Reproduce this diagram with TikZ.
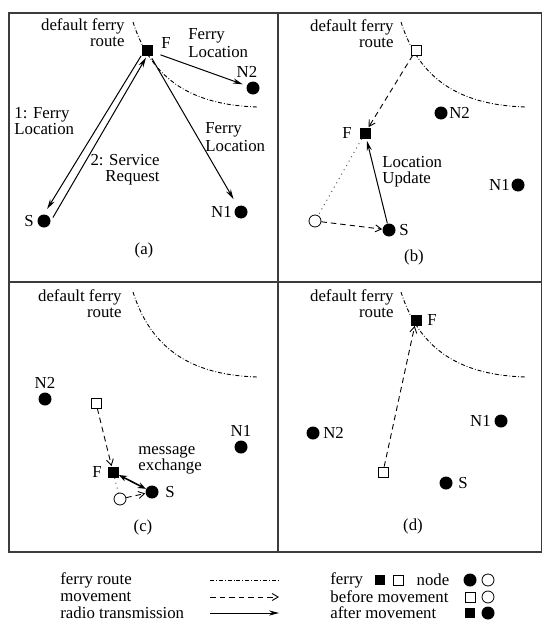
\documentclass[tikz,border=0pt]{standalone}
\usepackage{fontspec}
\setmainfont{Liberation Serif}
\usepackage{tikz}
\usetikzlibrary{arrows.meta,positioning}
\definecolor{frameGray}{RGB}{60,60,60}
\newcommand{\lblfont}{\fontsize{8.4}{8}\selectfont}
\newcommand{\lblfontwide}{\fontsize{8.4}{9}\selectfont}

\begin{document}
\begin{tikzpicture}[x=0.5pt, y=-0.5pt,
  ferry/.style={rectangle, fill=black, minimum size=5.5pt, inner sep=0pt},
  oldferry/.style={rectangle, draw, fill=white, line width=0.4pt, minimum size=5pt, inner sep=0pt},
  sensor/.style={circle, fill=black, minimum size=6.5pt, inner sep=0pt},
  oldsensor/.style={circle, draw, fill=white, line width=0.4pt, minimum size=6pt, inner sep=0pt},
  lbl/.style={font=\lblfont, inner sep=0.5pt},
  ferryroute/.style={line width=0.45pt, dash pattern=on 2pt off 1pt on 0.4pt off 1pt},
  moving/.style={line width=0.45pt, dash pattern=on 2.75pt off 2pt, -{Straight Barb[length=3pt,width=3.5pt]}},
  radio/.style={line width=0.5pt, -{Stealth[length=5pt,width=2.6pt]}},
  exchange/.style={line width=0.8pt, {Stealth[length=4pt,width=3pt]}-{Stealth[length=4pt,width=3pt]}},
  trail/.style={line width=0.5pt, dotted, black!65}]
  \useasboundingbox (0,0) rectangle (541,621);

  % frame
  \draw[frameGray, line width=0.75pt] (9,13) rectangle (541.5,552);
  \draw[frameGray, line width=0.75pt] (278,13) -- (278,552);
  \draw[frameGray, line width=0.75pt] (9,282) -- (541.5,282);

  % (a)
  \node[lbl, anchor=east, align=right] (rta) at (126,33) {default ferry\\route};
  \draw[ferryroute] (133,22) .. controls (152,82) and (195,105) .. (257,107);
  \node[ferry] (fa) at (147,50) {};
  \node[sensor] (sa) at (44,221) {};
  \node[sensor] (n1a) at (241,212) {};
  \node[sensor] (n2a) at (253,88) {};
  \node[lbl, right=3.5pt of fa, yshift=3.5pt] {F};
  \node[lbl, left=1pt of sa] {S};
  \node[lbl, left=0.5pt of n1a] {N1};
  \node[lbl, above=1pt of n2a, xshift=-3pt] {N2};
  \draw[radio, shorten >=3pt] (fa.south west) -- (sa.north);
  \draw[radio, shorten <=2pt, shorten >=1pt] (sa.east) -- (fa.south);
  \draw[radio, shorten <=4pt, shorten >=2pt] (fa) -- (n2a);
  \draw[radio, shorten <=1.5pt, shorten >=4pt] (fa) -- (n1a);
  \node[lbl, font=\lblfontwide, anchor=west, align=left] at (187,43) {Ferry\\Location};
  \node[lbl, font=\lblfontwide, anchor=west, align=left] at (204,137) {Ferry\\Location};
  \node[lbl, anchor=west, align=left] at (13,121) {1: Ferry\\Location};
  \node[lbl, anchor=east, align=right] at (161,170) {2: Service\\Request};
  \node[lbl] (capa) at (144,250) {(a)};

  % (b)
  \node[lbl, anchor=east, align=right] (rtb) at (395,34) {default ferry\\route};
  \draw[ferryroute] (401,22) .. controls (420,82) and (463,105) .. (525,107);
  \node[oldferry] (fb0) at (416,50) {};
  \node[ferry] (fb) at (365,133) {};
  \node[sensor] (n2b) at (441,113) {};
  \node[sensor] (n1b) at (518,185) {};
  \node[oldsensor] (sb0) at (315,221) {};
  \node[sensor] (sb) at (389,230) {};
  \node[lbl, left=3pt of fb] {F};
  \node[lbl, right=0pt of n2b] {N2};
  \node[lbl, left=0pt of n1b] {N1};
  \node[lbl, right=1pt of sb] {S};
  \draw[moving] (fb0) -- (fb);
  \draw[trail] (fb) -- (sb0);
  \draw[moving] (sb0) -- (sb);
  \draw[radio, shorten >=1pt] (sb) -- (fb);
  \node[lbl, anchor=west, align=left] at (381,172) {Location\\Update};
  \node[lbl] (capb) at (414,257) {(b)};

  % (c)
  \node[lbl, anchor=east, align=right] (rtc) at (123,304) {default ferry\\route};
  \draw[ferryroute] (133,292) .. controls (152,352) and (195,375) .. (257,377);
  \node[sensor] (n2c) at (45,399) {};
  \node[oldferry] (fc0) at (96,403) {};
  \node[ferry] (fc) at (113,472) {};
  \node[sensor] (n1c) at (241,447) {};
  \node[sensor] (sc) at (152,492) {};
  \node[oldsensor] (sc0) at (120,499) {};
  \node[lbl, above=1pt of n2c] {N2};
  \node[lbl, above=1pt of n1c] {N1};
  \node[lbl, left=2pt of fc] {F};
  \node[lbl, right=2.5pt of sc] {S};
  \draw[moving] (fc0) -- (fc);
  \draw[trail] (fc) -- (sc0);
  \draw[moving] (sc0) -- (sc);
  \draw[exchange] (fc) -- (sc);
  \node[lbl, anchor=west, align=left] at (137,460) {message\\exchange};
  \node[lbl] (capc) at (143,527) {(c)};

  % (d)
  \node[lbl, anchor=east, align=right] (rtd) at (395,304) {default ferry\\route};
  \draw[ferryroute] (401,292) .. controls (420,352) and (463,375) .. (525,377);
  \node[ferry] (fd) at (416,320) {};
  \node[oldferry] (fd0) at (383,472) {};
  \node[sensor] (n2d) at (313,433) {};
  \node[sensor] (n1d) at (501,421) {};
  \node[sensor] (sd) at (446,483) {};
  \node[lbl, right=2pt of fd] {F};
  \node[lbl, right=1pt of n2d] {N2};
  \node[lbl, left=1pt of n1d] {N1};
  \node[lbl, right=2pt of sd] {S};
  \draw[moving] (fd0) -- (fd);
  \node[lbl] (capd) at (413,526) {(d)};

  % legend
  \node[lbl, anchor=west] (lgroute) at (59,580) {ferry route};
  \node[lbl, anchor=west] (lgmove) at (59,597) {movement};
  \node[lbl, anchor=west] (lgradio) at (59,613) {radio transmission};
  \coordinate (lr0) at (210,580); \coordinate (lr1) at (280,580);
  \coordinate (lm0) at (210,597); \coordinate (lm1) at (279,597);
  \coordinate (lt0) at (210,613); \coordinate (lt1) at (279,613);
  \draw[ferryroute] (lr0) -- (lr1);
  \draw[moving] (lm0) -- (lm1);
  \draw[radio] (lt0) -- (lt1);
  \node[lbl, anchor=west] (lgferry) at (329,580) {ferry};
  \node[ferry, minimum size=5pt] (kf1) at (380,580) {};
  \node[oldferry] (kf0) at (398,580) {};
  \node[lbl] (lgnode) at (433,580) {node};
  \node[sensor] (ks1) at (470,580) {};
  \node[oldsensor] (ks0) at (488,580) {};
  \node[lbl, anchor=west] (lgbefore) at (329,597) {before movement};
  \node[oldferry] (kbf) at (470,597) {};
  \node[oldsensor] (kbs) at (488,597) {};
  \node[lbl, anchor=west] (lgafter) at (329,613) {after movement};
  \node[ferry, minimum size=5pt] (kaf) at (470,613) {};
  \node[sensor] (kas) at (488,613) {};
\end{tikzpicture}
\end{document}
